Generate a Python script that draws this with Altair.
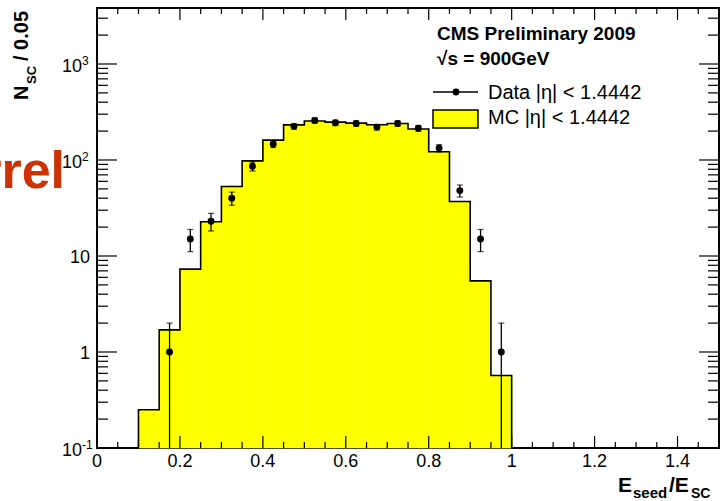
import altair as alt
import pandas as pd

# ---------------- data ----------------
# MC histogram: bin edges and contents (bin width 0.05)
mc_lo = [0.10, 0.15, 0.20, 0.25, 0.30, 0.35, 0.40, 0.45, 0.50, 0.55,
         0.60, 0.65, 0.70, 0.75, 0.80, 0.85, 0.90, 0.95]
mc_hi = [0.15, 0.20, 0.25, 0.30, 0.35, 0.40, 0.45, 0.50, 0.55, 0.60,
         0.65, 0.70, 0.75, 0.80, 0.85, 0.90, 0.95, 1.00]
mc_val = [0.25, 1.7, 7.3, 22.7, 53, 98, 161, 232, 255, 248,
          242, 233, 240, 210, 122, 37, 5.5, 0.57]

# Data points with error bars
data_x = [0.175, 0.225, 0.275, 0.325, 0.375, 0.425, 0.475, 0.525, 0.575,
          0.625, 0.675, 0.725, 0.775, 0.825, 0.875, 0.925, 0.975]
data_y = [1, 15, 23, 40, 86, 147, 224, 258, 244,
          240, 220, 240, 214, 133, 48, 15, 1]
data_lo = [0.1, 11.1, 18.2, 33.7, 76.7, 134.9, 209, 241.9, 228.4,
           224.5, 205.2, 224.5, 199.4, 121.5, 41.1, 11.1, 0.1]
data_hi = [2, 18.9, 27.8, 46.3, 95.3, 159.1, 239, 274.1, 259.6,
           255.5, 234.8, 255.5, 228.6, 144.5, 54.9, 18.9, 2]

# Axis ticks and labels
x_major = [0, 0.2, 0.4, 0.6, 0.8, 1.0, 1.2, 1.4]
x_labels = ["0", "0.2", "0.4", "0.6", "0.8", "1", "1.2", "1.4"]
x_minor = [0.05, 0.1, 0.15, 0.25, 0.3, 0.35, 0.45, 0.5, 0.55, 0.65, 0.7, 0.75,
           0.85, 0.9, 0.95, 1.05, 1.1, 1.15, 1.25, 1.3, 1.35, 1.45]
y_major = [0.1, 1, 10, 100, 1000]
y_label_base = ["10", "1", "10", "10", "10"]
y_label_exp = ["-1", "", "", "2", "3"]
y_minor = [0.2, 0.3, 0.4, 0.5, 0.6, 0.7, 0.8, 0.9,
           2, 3, 4, 5, 6, 7, 8, 9,
           20, 30, 40, 50, 60, 70, 80, 90,
           200, 300, 400, 500, 600, 700, 800, 900,
           2000, 3000]

# ---------------- layout ----------------
W, H = 622, 440
FONT = "Liberation Sans"
YELLOW = "#ffff00"

xscale = alt.Scale(domain=[0, 1.5], nice=False, zero=False)
yscale = alt.Scale(type="log", domain=[0.1, 3830], nice=False)


def X(f):
    return alt.X(f, type="quantitative", scale=xscale, axis=None)


def Y(f):
    return alt.Y(f, type="quantitative", scale=yscale, axis=None)


mc = pd.DataFrame({"lo": mc_lo, "hi": mc_hi, "val": mc_val})
mc["base"] = 0.1

# step outline built from the histogram arrays
step_x = [mc_lo[0]] + mc_lo + [mc_hi[-1]]
step_y = [0.1] + mc_val + [0.1]
step = pd.DataFrame({"x": step_x, "y": step_y, "i": list(range(len(step_x)))})

pts = pd.DataFrame({"x": data_x, "y": data_y, "lo": data_lo, "hi": data_hi})

bars = alt.Chart(mc).mark_rect(fill=YELLOW, stroke=YELLOW, strokeWidth=0.6).encode(
    x=X("lo"), x2="hi", y=Y("val"), y2="base")

outline = alt.Chart(step).mark_line(
    interpolate="step-after", color="black", strokeWidth=1.6).encode(
    x=X("x"), y=Y("y"), order="i:Q")

err = alt.Chart(pts).mark_rule(color="black", strokeWidth=1.3).encode(
    x=X("x"), y=Y("lo"), y2="hi")

cap_hi = alt.Chart(pts).mark_tick(orient="horizontal", color="black",
                                   size=6, thickness=1.2).encode(x=X("x"), y=Y("hi"))
cap_lo = alt.Chart(pts).transform_filter("datum.lo > 0.1").mark_tick(
    orient="horizontal", color="black", size=6, thickness=1.2).encode(x=X("x"), y=Y("lo"))

dots = alt.Chart(pts).mark_circle(color="black", size=48, opacity=1).encode(
    x=X("x"), y=Y("y"))


# ---------------- ticks (inward, ROOT style) ----------------
def xticks(vals, length):
    df = pd.DataFrame({"v": vals})
    bottom = alt.Chart(df).mark_rule(color="black", strokeWidth=1.2).encode(
        x=X("v"), y=alt.value(H), y2=alt.value(H - length))
    top = alt.Chart(df).mark_rule(color="black", strokeWidth=1.2).encode(
        x=X("v"), y=alt.value(0), y2=alt.value(length))
    return [bottom, top]


def yticks(vals, length):
    df = pd.DataFrame({"v": vals})
    left = alt.Chart(df).mark_rule(color="black", strokeWidth=1.2).encode(
        y=Y("v"), x=alt.value(0), x2=alt.value(length))
    right = alt.Chart(df).mark_rule(color="black", strokeWidth=1.2).encode(
        y=Y("v"), x=alt.value(W), x2=alt.value(W - length))
    return [left, right]


tick_layers = (xticks(x_major, 12) + xticks(x_minor, 6)
               + yticks(y_major, 20) + yticks(y_minor, 11))

# ---------------- tick labels ----------------
xlab = alt.Chart(pd.DataFrame({"v": x_major, "t": x_labels})).mark_text(
    font=FONT, fontSize=18, baseline="middle", align="center").encode(
    x=X("v"), y=alt.value(H + 14), text="t:N")

ylab_df = pd.DataFrame({"v": y_major, "b": y_label_base, "e": y_label_exp})
ylab_plain = alt.Chart(ylab_df).transform_filter("datum.e == ''").mark_text(
    font=FONT, fontSize=18, baseline="middle", align="right", dy=2).encode(
    y=Y("v"), x=alt.value(-7), text="b:N")
ylab_base = alt.Chart(ylab_df).transform_filter("datum.e != ''").mark_text(
    font=FONT, fontSize=18, baseline="middle", align="right", dy=3).encode(
    y=Y("v"), x=alt.value(-15), text="b:N")
ylab_exp = alt.Chart(ylab_df).transform_filter("datum.e != ''").mark_text(
    font=FONT, fontSize=12, baseline="middle", align="left", dy=-3).encode(
    y=Y("v"), x=alt.value(-15), text="e:N")


# ---------------- free text ----------------
def txt(s, x, y, size, bold=False, align="left", angle=0, color="black", baseline="alphabetic"):
    kw = dict(font=FONT, fontSize=size, align=align, baseline=baseline, color=color,
              fontWeight="bold" if bold else "normal")
    if angle:
        kw["angle"] = angle
    return alt.Chart(pd.DataFrame({"t": [s]})).mark_text(**kw).encode(
        x=alt.value(x), y=alt.value(y), text="t:N")


texts = [
    txt("Barrel", -32, 180, 52, bold=True, align="right", color="#cc3300"),
    # y title  N_SC / 0.05
    txt("N", -69, 92, 20, bold=True, angle=270),
    txt("SC", -61, 76, 13, bold=True, angle=270),
    txt("/ 0.05", -69, 53, 20, bold=True, angle=270),
    # x title  E_seed / E_SC
    txt("E", 521, 484, 21, bold=True),
    txt("seed", 536, 490, 15, bold=True),
    txt("/E", 572, 484, 21, bold=True),
    txt("SC", 594, 490, 14, bold=True),
    # header
    txt("CMS Preliminary 2009", 340, 32, 19, bold=True),
    txt("\u221as = 900GeV", 340, 57, 19, bold=True),
    # legend
    txt("Data |\u03b7| < 1.4442", 391, 91, 20),
    txt("MC |\u03b7| < 1.4442", 391, 116, 20),
]

one = pd.DataFrame({"k": [0]})
leg_line = alt.Chart(one).mark_rule(color="black", strokeWidth=1.5).encode(
    x=alt.value(336), x2=alt.value(381), y=alt.value(84))
leg_dot = alt.Chart(one).mark_circle(color="black", size=48, opacity=1).encode(
    x=alt.value(359), y=alt.value(84))
leg_box = alt.Chart(one).mark_rect(fill=YELLOW, stroke="black", strokeWidth=1.5).encode(
    x=alt.value(336), x2=alt.value(381), y=alt.value(102), y2=alt.value(120))

chart = alt.layer(
    bars, outline, err, cap_hi, cap_lo, dots,
    *tick_layers, xlab, ylab_plain, ylab_base, ylab_exp,
    *texts, leg_line, leg_dot, leg_box
).properties(
    width=W, height=H,
    autosize=alt.AutoSizeParams(type="none"),
    padding={"left": 97, "top": 8, "right": 1, "bottom": 53},
    background="white",
).configure_view(stroke="black", strokeWidth=2)

chart.save("out.html", embed_options={"renderer": "svg", "actions": False})
